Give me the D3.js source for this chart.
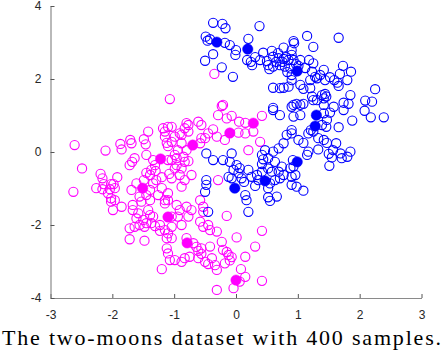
<!DOCTYPE html>
<html>
<head>
<meta charset="utf-8">
<script src="https://cdn.jsdelivr.net/npm/d3@7"></script>
<style>
html,body{margin:0;padding:0;background:#fff;}
svg{display:block;}
</style>
</head>
<body>
<svg id="chart" width="444" height="356"></svg>
<script>
// ---- data ----
const xTicks = [-3, -2, -1, 0, 1, 2, 3];
const yTicks = [-4, -2, 0, 2, 4];
const caption = "The two-moons dataset with 400 samples.";

// class 1 (blue), unlabeled samples [x, y]
const blueX = [-0.37,-0.22,-0.17,0.38,-0.49,-0.46,-0.42,-0.18,-0.10,0.20,0.00,-0.01,-0.37,-0.50,-0.23,-0.05,0.18,0.24,0.31,0.26,
0.44,0.58,0.77,0.90,0.93,1.25,0.39,0.60,0.69,0.77,0.85,0.93,1.04,0.50,0.52,0.60,0.71,0.79,0.88,0.90,
1.25,1.23,1.28,1.36,1.42,0.60,0.77,0.85,1.04,1.09,1.20,1.23,1.31,1.39,1.42,0.93,1.04,0.60,1.15,1.66,
0.94,0.90,1.73,1.86,1.68,1.31,1.52,1.59,1.64,1.66,1.80,1.44,1.20,2.25,1.85,1.44,1.46,1.42,2.09,2.20,
1.74,1.82,1.25,0.90,0.71,0.98,1.09,1.58,1.74,2.08,2.18,2.39,1.88,1.04,0.93,1.42,1.52,1.47,1.66,1.21,
1.17,1.25,1.39,1.46,0.90,1.01,1.09,1.42,1.47,1.62,1.33,1.17,1.15,1.50,1.55,1.69,1.71,1.80,1.85,1.51,
0.93,0.90,0.98,1.09,0.96,0.60,0.71,0.90,0.82,0.90,0.77,0.69,0.60,0.47,0.42,0.44,0.52,0.63,-0.48,-0.37,
-0.21,-0.07,-0.10,0.01,-0.04,0.04,0.20,0.25,0.09,-0.07,-0.12,0.36,0.34,0.42,0.52,0.58,0.69,0.74,0.77,0.71,
0.63,0.55,0.52,-0.48,-0.48,-0.50,0.15,0.52,0.66,0.90,0.88,0.92,-0.45,0.20,0.17,0.55,0.65,0.75,0.81,0.97,
0.68,1.01,0.54,0.83,1.12,1.18,0.06,0.13,0.31,0.42,1.33,1.57];
const blueY = [3.54,3.51,3.39,3.45,3.16,3.05,3.09,2.99,2.93,3.10,2.79,2.66,2.68,2.50,2.32,2.06,2.52,2.47,2.60,2.38,
2.72,2.77,2.86,2.79,3.04,2.88,2.52,2.61,2.57,2.55,2.52,2.52,2.52,2.49,2.38,2.34,2.38,2.34,2.29,2.11,
2.43,2.20,2.06,2.11,2.25,1.76,1.76,1.79,1.84,1.73,1.75,1.52,1.42,1.56,1.29,1.29,1.29,1.21,3.18,3.13,
2.98,2.66,2.36,2.20,2.14,2.02,2.05,1.97,1.90,1.81,1.97,1.97,1.97,1.72,1.56,1.59,1.52,1.47,1.41,1.38,
1.35,1.32,1.42,1.97,1.75,1.32,1.32,1.24,1.15,1.13,0.95,0.95,0.86,1.01,0.97,1.06,1.08,0.88,0.68,0.60,
0.51,0.56,0.74,0.69,0.51,0.33,0.25,0.33,0.25,0.24,0.07,0.01,-0.08,-0.05,-0.15,-0.04,-0.17,-0.13,0.01,-0.38,
-0.40,-0.68,-0.95,-1.06,-0.63,1.15,1.01,1.24,0.47,0.60,0.24,0.10,0.01,0.05,-0.08,-0.20,-0.17,-0.27,-0.04,-0.22,
-0.22,-0.04,-0.27,-0.36,-0.49,-0.58,-0.49,-0.68,-0.72,-0.72,-0.68,-0.77,-0.63,-0.54,-0.45,-0.54,-0.54,-0.40,-0.63,-0.72,
-0.77,-0.86,-0.99,-0.77,-0.90,-1.09,-1.18,-1.24,-1.22,-0.90,-0.44,-0.22,-1.64,-1.64,-1.32,-1.34,2.47,2.47,2.60,2.41,
2.71,2.36,2.27,2.19,2.30,2.52,-0.44,-0.82,-0.93,-0.33,0.38,0.05];

// class 2 (magenta), unlabeled samples
const magX = [-0.35,-1.07,-0.21,-0.23,-0.29,-0.15,-0.07,0.05,0.15,0.42,-0.37,-0.31,-0.45,-0.50,0.04,0.15,0.28,0.39,0.20,-0.18,
-0.61,-0.56,-0.77,-0.83,-0.88,-0.99,-1.10,-1.15,-0.88,-0.94,-0.99,-0.85,-0.83,-0.77,-0.88,-0.99,-0.91,-1.04,-0.88,-0.96,
-1.10,-0.29,-1.10,-1.10,-1.42,-2.61,-2.11,-1.87,-1.85,-1.71,-1.69,-1.49,-1.46,-1.15,-1.12,-2.49,-1.45,-1.34,-1.31,-1.37,
-1.39,-1.45,-1.49,-1.64,-1.68,-1.72,-1.20,-1.08,-2.19,-2.16,-1.92,-1.98,-2.26,-2.16,-2.04,-1.96,-2.07,-2.02,-2.63,-1.69,
-1.61,-1.56,-1.45,-1.39,-1.26,-1.15,-1.20,-1.34,-1.29,-1.18,-1.04,-0.91,-1.04,-1.10,-0.80,-0.77,-0.56,-0.58,-0.80,-1.04,
-0.96,-0.72,-0.83,-1.30,-2.02,-2.14,-1.96,-1.99,-1.85,-1.67,-1.58,-1.42,-1.39,-1.34,-1.15,-1.04,-0.96,-0.91,-0.80,-0.72,
-0.77,-0.58,-0.53,-2.02,-1.67,-1.53,-1.39,-1.61,-1.50,-1.45,-1.37,-1.31,-1.48,-1.56,-1.64,-1.72,-1.23,-1.15,-1.23,-1.72,
-1.48,-1.20,-1.12,-1.10,-1.07,-1.12,-0.94,-0.88,-1.04,-1.10,-1.04,-0.99,-0.53,-0.15,-0.58,-0.53,-0.45,-0.42,-0.31,-0.80,
-0.69,-0.64,-0.61,-0.56,-0.56,-0.61,-0.50,-0.45,-0.39,-0.34,-0.31,-0.42,-0.23,-0.21,-0.15,-0.12,-0.07,-0.10,-0.18,-0.75,
-0.83,-0.88,0.01,0.31,0.15,0.42,0.08,0.15,0.06,-0.04,-0.31,0.42];
const magY = [2.14,1.45,1.29,1.26,1.01,0.92,0.99,0.83,0.80,0.99,0.62,0.42,0.51,0.38,0.53,0.51,0.56,0.28,0.05,0.33,
0.83,0.74,0.74,0.65,0.47,0.42,0.69,0.42,0.24,0.05,-0.08,-0.13,-0.27,-0.25,-0.45,-0.45,-0.63,-0.72,-0.95,-0.17,
-0.22,-0.77,-1.13,-1.32,0.56,0.19,0.04,0.22,0.07,0.33,0.24,0.35,0.21,0.56,0.25,-0.45,-0.08,-0.22,-0.36,-0.49,
-0.63,-0.57,-0.77,-0.17,-0.27,-0.36,-0.69,-0.60,-0.60,-0.72,-0.69,-0.88,-0.99,-1.02,-1.02,-0.99,-1.13,-1.27,-1.09,-1.04,
-0.86,-1.22,-1.18,-1.04,-1.18,-1.32,-0.99,-0.86,-0.77,0.65,0.69,0.51,0.28,0.16,0.79,0.56,0.38,0.24,0.05,-0.22,
-0.36,-0.63,-0.77,-0.52,-0.88,-0.88,-1.32,-1.59,-1.50,-1.59,-1.68,-1.59,-1.73,-1.77,-1.41,-1.77,-1.45,-1.59,-1.50,-1.59,
-1.77,-1.32,-1.50,-1.36,-1.45,-1.36,-1.32,-1.82,-1.86,-1.95,-1.95,-2.03,-2.05,-2.00,-2.05,-2.09,-2.00,-2.14,-2.16,-2.39,
-2.43,-3.21,-2.64,-2.78,-2.96,-2.36,-1.77,-2.00,-2.05,-2.23,-2.36,-2.96,-1.64,-1.75,-1.91,-2.05,-2.00,-2.14,-2.18,-2.36,
-2.50,-2.60,-2.71,-2.64,-2.79,-2.91,-3.01,-3.07,-2.91,-3.10,-3.23,-2.59,-2.46,-2.68,-2.74,-2.82,-2.88,-2.97,-3.05,-2.87,
-2.91,-3.01,-2.34,-2.59,-2.87,-2.16,-3.21,-3.42,-3.55,-3.73,-3.78,-3.53];

// labeled samples (filled)
const blueLabX = [-0.31,0.19,0.99,1.30,1.28,0.99,0.47,-0.02];
const blueLabY = [3.01,2.82,2.22,1.01,0.71,-0.27,-0.79,-0.99];
const magLabX = [0.28,-0.10,-0.70,-1.22,-1.51,-1.10,-0.79,0.00];
const magLabY = [0.79,0.52,0.19,-0.19,-0.99,-1.78,-2.49,-3.51];

// ---- drawing ----
const svg = d3.select("#chart");
const x = d3.scaleLinear().domain([-3, 3]).range([50.5, 421.5]);
const y = d3.scaleLinear().domain([-4, 4]).range([298, 6]);
const BLUE = "#0000ff", MAG = "#ff00ff";

function pts(xs, ys) { return xs.map((v, i) => [v, ys[i]]); }

const plot = svg.append("g");
plot.selectAll("circle.m").data(pts(magX, magY)).join("circle")
  .attr("class", "m").attr("cx", d => x(d[0])).attr("cy", d => y(d[1])).attr("r", 4.6)
  .attr("fill", "none").attr("stroke", MAG).attr("stroke-width", 1.1);
plot.selectAll("circle.b").data(pts(blueX, blueY)).join("circle")
  .attr("class", "b").attr("cx", d => x(d[0])).attr("cy", d => y(d[1])).attr("r", 4.6)
  .attr("fill", "none").attr("stroke", BLUE).attr("stroke-width", 1.1);
plot.selectAll("circle.ml").data(pts(magLabX, magLabY)).join("circle")
  .attr("class", "ml").attr("cx", d => x(d[0])).attr("cy", d => y(d[1])).attr("r", 5.2)
  .attr("fill", MAG).attr("stroke", MAG).attr("stroke-width", 0.5);
plot.selectAll("circle.bl").data(pts(blueLabX, blueLabY)).join("circle")
  .attr("class", "bl").attr("cx", d => x(d[0])).attr("cy", d => y(d[1])).attr("r", 5.2)
  .attr("fill", BLUE).attr("stroke", BLUE).attr("stroke-width", 0.5);

// axes
const xAxis = d3.axisBottom(x).tickValues(xTicks).tickSizeInner(-4).tickSizeOuter(0).tickPadding(12).tickFormat(d3.format("d"));
const yAxis = d3.axisLeft(y).tickValues(yTicks).tickSizeInner(-4).tickSizeOuter(0).tickPadding(9).tickFormat(d3.format("d"));
const gx = svg.append("g").attr("transform", "translate(0,298)").call(xAxis);
const gy = svg.append("g").attr("transform", "translate(50.5,0)").call(yAxis);
[gx, gy].forEach(g => {
  g.select(".domain").attr("stroke", "#8a8a8a").attr("stroke-width", 1.2);
  g.selectAll(".tick line").attr("stroke", "#555").attr("stroke-width", 1);
  g.selectAll(".tick text").attr("fill", "#262626")
    .style("font-family", "'Liberation Sans', Arial, sans-serif").style("font-size", "12px");
});
gx.selectAll(".tick text").text(d => d < 0 ? "-" + Math.abs(d) : d);
gy.selectAll(".tick text").text(d => d < 0 ? "-" + Math.abs(d) : d);

// caption
svg.append("text").attr("x", 2).attr("y", 345)
  .attr("textLength", 439).attr("lengthAdjust", "spacing")
  .style("font-family", "'Liberation Serif', 'Times New Roman', serif").style("font-size", "22px")
  .attr("fill", "#000").text(caption);
</script>
</body>
</html>
